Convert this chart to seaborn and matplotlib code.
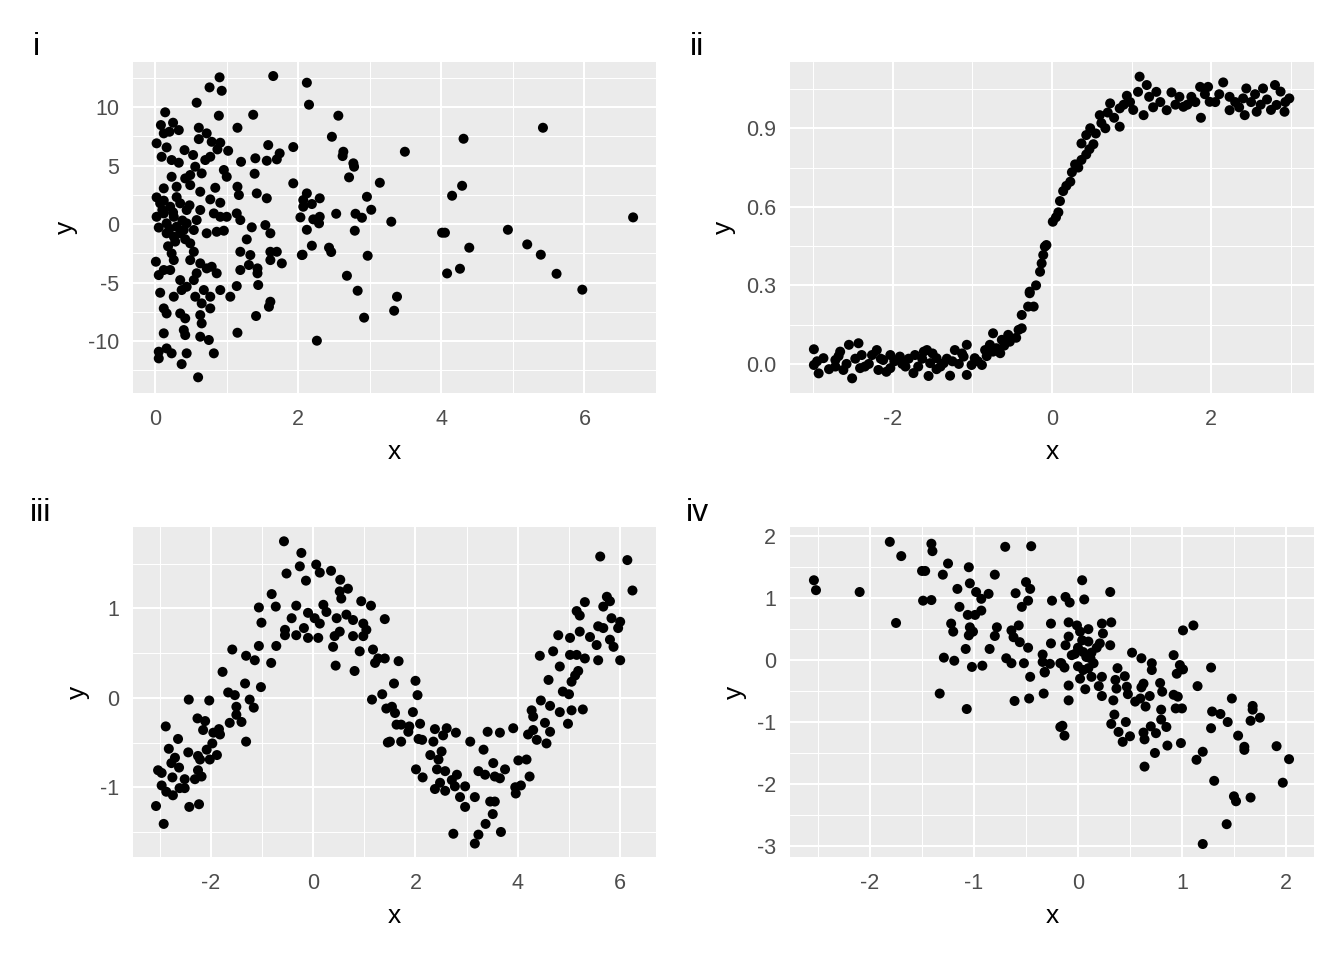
import numpy as np
import pandas as pd
import matplotlib
matplotlib.use("Agg")
import matplotlib.pyplot as plt
import seaborn as sns

# points, (x, y) per panel
pts_i = [
    (2.12, 12.08), (2.15, 10.2), (2.56, 9.26), (2.47, 7.46), (2.63, 6.18), (2.62, 5.81), (2.77, 5.19),
    (2.78, 4.9), (2.71, 3.99), (3.14, 3.53), (3.49, 6.18), (4.31, 7.29), (5.42, 8.23), (4.29, 3.27),
    (4.15, 2.42), (6.68, 0.57), (2.96, 2.33), (3.02, 1.22), (2.80, 0.88), (2.89, 0.54), (2.53, 0.88),
    (3.30, 0.2), (2.79, -0.57), (4.01, -0.74), (4.05, -0.74), (4.93, -0.49), (4.39, -2.02), (5.20, -1.74),
    (5.39, -2.62), (5.61, -4.25), (5.97, -5.61), (4.26, -3.82), (4.08, -4.22), (2.97, -2.71), (2.68, -4.42),
    (2.83, -5.7), (3.38, -6.21), (3.34, -7.41), (2.92, -8.0), (2.26, -9.97), (2.19, -1.85), (2.43, -2.02),
    (2.46, -2.39), (2.06, -2.62), (2.12, -0.49), (2.12, 2.62), (2.07, 2.05), (2.19, 1.71), (2.30, 2.2),
    (2.07, 1.48), (2.21, 0.4), (2.30, 0.62), (2.29, 0.06), (2.03, 0.57),
    (0.90, 12.54), (0.76, 11.68), (0.93, 11.39), (1.65, 12.65), (0.58, 10.37), (0.14, 9.55), (0.89, 9.26),
    (1.37, 9.34), (1.15, 8.23), (0.08, 8.46), (0.25, 8.66), (0.33, 8.03), (0.20, 7.89), (0.12, 7.75),
    (0.61, 8.23), (0.72, 7.75), (0.61, 7.26), (0.02, 6.9), (0.16, 6.55), (0.09, 5.75), (0.23, 5.47),
    (0.33, 5.24), (0.41, 6.32), (0.53, 5.9), (0.79, 7.03), (0.91, 6.95), (0.77, 5.75), (0.70, 5.47),
    (1.02, 6.26), (0.87, 6.38), (1.58, 6.75), (1.93, 6.58), (1.74, 6.04), (1.70, 5.53), (1.40, 5.62),
    (1.56, 5.41), (1.20, 5.32), (1.39, 4.3), (1.93, 3.48), (0.56, 4.9), (0.65, 4.33), (0.49, 4.19),
    (0.23, 4.04), (0.42, 3.9), (0.96, 4.62), (1.0, 4.04), (0.30, 3.19), (0.49, 3.33), (0.63, 2.76),
    (0.84, 3.1), (0.12, 3.05), (0.02, 2.28), (0.77, 2.11), (0.91, 1.82), (1.15, 3.19), (1.17, 2.48),
    (1.42, 2.62), (1.56, 2.2), (0.07, 1.77), (0.21, 1.48), (0.35, 1.77), (0.44, 1.2), (0.12, 0.91),
    (0.26, 0.62), (0.02, 0.62), (0.16, 0.06), (0.30, -0.23), (0.44, 0.06), (0.58, 0.34), (0.63, 1.2),
    (0.16, -0.79), (0.35, -0.79), (0.54, -0.51), (0.26, -1.08), (0.82, 0.91), (0.91, 0.62), (1.0, 0.62),
    (1.14, 0.91), (1.19, 0.34), (0.72, -0.79), (0.86, -0.66), (0.96, -0.57), (1.35, -0.28), (1.28, -1.31),
    (1.54, -0.09), (1.61, -0.79), (0.10, 1.2), (0.25, 1.0), (0.38, 0.3), (0.05, -0.3), (0.2, -0.4),
    (0.4, -0.5), (0.12, 2.0), (0.3, 2.3), (0.48, 1.6), (0.28, -1.5), (0.18, -1.9), (0.42, -1.3),
    (0.49, -1.65), (0.54, -2.37), (0.49, -3.08), (0.23, -2.51), (0.26, -3.08), (0.01, -3.22), (0.12, -3.93),
    (0.05, -4.36), (0.21, -3.93), (0.63, -3.36), (0.72, -3.79), (0.79, -3.65), (0.86, -4.21), (0.58, -4.21),
    (0.54, -4.79), (0.35, -4.79), (0.44, -5.36), (1.19, -2.37), (1.33, -2.65), (1.19, -3.93), (1.31, -3.5),
    (1.43, -3.79), (1.43, -4.21), (1.61, -2.37), (1.70, -2.37), (1.61, -3.08), (1.77, -3.36), (2.05, -2.65),
    (0.07, -5.87), (0.26, -6.21), (0.37, -5.64), (0.56, -6.21), (0.68, -5.64), (0.77, -6.21), (0.91, -5.64),
    (1.05, -6.21), (1.14, -5.3), (1.44, -5.21), (0.65, -6.78), (0.77, -7.21), (0.12, -7.21), (0.16, -7.64),
    (0.35, -7.64), (0.42, -8.06), (0.63, -7.78), (0.65, -8.49), (1.61, -6.64), (1.59, -7.07), (1.41, -7.86),
    (0.12, -9.34), (0.40, -9.06), (0.42, -9.49), (0.63, -9.63), (0.75, -9.91), (1.15, -9.29), (0.05, -10.91),
    (0.16, -10.63), (0.23, -11.05), (0.44, -11.05), (0.82, -11.05), (0.05, -11.48), (0.37, -11.97), (0.60, -13.1),
]

pts_ii = [
    (-2.99, 0.056), (-2.99, -0.004), (-2.93, -0.036), (-2.87, 0.022), (-2.72, 0.015), (-2.66, 0.047),
    (-2.55, 0.073), (-2.43, 0.079), (-2.62, -0.023), (-2.51, -0.055), (-2.41, -0.016), (-2.39, 0.034),
    (-2.72, -0.01), (-2.26, 0.034), (-2.20, 0.053), (-2.12, 0.015), (-2.03, 0.034), (-2.18, -0.023),
    (-2.03, -0.016), (-1.91, 0.028), (-1.84, -0.01), (-1.74, -0.035), (-1.72, 0.034), (-1.61, 0.047),
    (-1.57, 0.053), (-1.53, 0.003), (-1.45, 0.022), (-1.55, -0.046), (-1.45, -0.02), (-1.36, 0.003),
    (-1.28, -0.045), (-1.22, 0.053), (-1.11, 0.028), (-1.07, 0.073), (-1.07, -0.042), (-1.01, -0.004),
    (-0.97, 0.022), (-0.88, -0.004), (-0.84, 0.053), (-0.78, 0.073), (-0.74, 0.047), (-0.65, 0.041),
    (-0.74, 0.117), (-0.63, 0.092), (-0.55, 0.111), (-0.53, 0.085), (-0.38, 0.136), (-0.38, 0.187),
    (-0.30, 0.219), (-0.23, 0.219), (-0.28, 0.27),
    (-2.95, 0.01), (-2.8, -0.02), (-2.68, 0.03), (-2.58, 0.0), (-2.47, 0.02), (-2.35, -0.01), (-2.3, 0.0),
    (-2.15, 0.02), (-2.08, -0.03), (-1.98, 0.01), (-1.88, 0.0), (-1.8, 0.02), (-1.68, -0.01), (-1.63, 0.02),
    (-1.5, 0.04), (-1.4, -0.01), (-1.32, 0.02), (-1.25, 0.01), (-1.17, 0.0), (-1.13, 0.04), (-0.93, 0.01),
    (-0.82, 0.03), (-0.7, 0.06), (-0.6, 0.07), (-0.45, 0.1), (-0.42, 0.13),
    (-0.28, 0.276), (-0.15, 0.352), (-0.13, 0.384), (-0.11, 0.416), (-0.09, 0.448), (-0.07, 0.454),
    (0.01, 0.543), (0.08, 0.579), (0.10, 0.622), (0.14, 0.660), (0.23, 0.696), (0.25, 0.732), (0.29, 0.762),
    (0.37, 0.779), (0.43, 0.800), (0.37, 0.842), (0.52, 0.839), (0.43, 0.874), (0.48, 0.9), (0.60, 0.95),
    (0.67, 0.9), (0.73, 0.995), (0.85, 0.976), (0.85, 0.906), (0.94, 1.024), (1.08, 1.039), (1.10, 1.097),
    (1.19, 1.065), (1.31, 1.039), (1.15, 0.95), (1.44, 0.969), (1.50, 1.037), (1.65, 0.982), (1.75, 1.02),
    (1.86, 1.058), (1.87, 0.94), (1.96, 1.058), (1.98, 1.001), (2.15, 1.075), (2.23, 1.02), (2.23, 0.969),
    (2.40, 1.014), (2.44, 1.052), (2.42, 0.95), (2.57, 0.963), (2.65, 1.052), (2.80, 1.065), (2.82, 0.989),
    (2.92, 0.963), (2.98, 1.014),
    (-0.2, 0.3), (0.05, 0.56), (0.18, 0.68), (0.33, 0.75), (0.47, 0.82), (0.55, 0.88), (0.62, 0.92),
    (0.7, 0.96), (0.78, 0.94), (0.9, 0.99), (0.98, 1.0), (1.02, 0.97), (1.22, 1.02), (1.27, 0.98), (1.36, 1.0),
    (1.55, 0.99), (1.6, 1.02), (1.7, 0.99), (1.8, 1.0), (1.92, 1.03), (2.05, 1.0), (2.1, 1.03), (2.3, 1.0),
    (2.35, 0.98), (2.5, 1.0), (2.55, 1.03), (2.62, 0.99), (2.7, 1.01), (2.75, 0.97), (2.87, 1.04), (2.93, 1.0),
]

pts_iii = [
    (-0.57, 1.75), (-0.23, 1.62), (-0.52, 1.39), (-0.26, 1.47), (-0.14, 1.31), (0.06, 1.49), (0.13, 1.40),
    (0.35, 1.42), (0.53, 1.32), (0.52, 1.19), (0.68, 1.22), (0.55, 1.11), (-0.81, 1.16), (-1.06, 1.01),
    (-0.73, 1.02), (-0.33, 1.03), (-1.01, 0.84), (-0.42, 0.89), (-0.55, 0.76), (-0.55, 0.70), (-0.33, 0.70),
    (-0.18, 0.78), (-0.10, 0.95), (0.03, 0.89), (0.13, 0.83), (0.20, 1.04), (0.26, 0.96), (-0.10, 0.67),
    (0.10, 0.67), (0.46, 0.89), (0.65, 0.93), (0.78, 0.87), (0.94, 1.08), (1.13, 1.03), (0.98, 0.83),
    (1.04, 0.76), (0.78, 0.69), (0.98, 0.69), (0.52, 0.74), (0.42, 0.69), (0.39, 0.57), (0.44, 0.36),
    (0.81, 0.30), (0.91, 0.52), (1.17, 0.54), (1.21, 0.39), (1.27, 0.44), (1.40, 0.44), (1.40, 0.88),
    (1.67, 0.41), (1.58, 0.16), (1.35, 0.04), (1.15, -0.02), (1.43, -0.12), (1.60, -0.17), (1.63, -0.30),
    (1.72, -0.30), (1.46, -0.50), (1.72, -0.49),
    (-1.58, 0.54), (-1.31, 0.47), (-1.14, 0.42), (-1.06, 0.58), (-0.72, 0.58), (-0.82, 0.39), (-1.77, 0.29),
    (-1.33, 0.16), (-1.02, 0.12), (-1.66, 0.06), (-1.53, 0.03), (-1.24, -0.02), (-1.16, -0.11), (-1.50, -0.10),
    (-1.63, -0.28), (-1.50, -0.19), (-1.40, -0.27), (-1.31, -0.49), (-2.43, -0.02), (-2.03, -0.03),
    (-2.26, -0.23), (-2.11, -0.26), (-2.15, -0.36), (-1.95, -0.39), (-1.84, -0.35), (-1.82, -0.41),
    (-1.97, -0.51), (-2.08, -0.58), (-2.25, -0.65), (-2.44, -0.61), (-2.21, -0.69), (-2.02, -0.69),
    (-1.88, -0.64), (-2.88, -0.32), (-2.64, -0.46), (-2.82, -0.57), (-2.70, -0.67), (-2.77, -0.73),
    (-2.62, -0.78), (-3.03, -0.81), (-2.96, -0.84), (-2.75, -0.89), (-2.51, -0.91), (-2.31, -0.91),
    (-2.25, -0.81), (-2.18, -0.88), (-2.96, -0.98), (-2.87, -1.05), (-2.74, -1.09), (-2.61, -1.01),
    (-2.51, -1.01), (-3.07, -1.21), (-2.42, -1.22), (-2.23, -1.19), (-2.92, -1.41),
    (2.0, 0.19), (2.04, 0.03), (1.54, -0.10), (1.95, -0.16), (1.88, -0.32), (2.09, -0.29), (1.86, -0.38),
    (1.50, -0.49), (2.06, -0.46), (2.13, -0.47), (2.38, -0.35), (2.61, -0.34), (2.79, -0.39), (2.54, -0.42),
    (2.35, -0.49), (2.51, -0.60), (2.29, -0.64), (2.45, -0.69), (2.42, -0.80), (2.01, -0.80), (2.14, -0.89),
    (2.58, -0.82), (2.81, -0.86), (2.71, -0.92), (2.77, -0.99), (2.97, -0.99), (2.38, -1.02), (2.58, -1.04),
    (2.48, -0.95), (2.87, -1.11), (2.97, -1.22), (3.16, -1.11), (3.07, -0.49), (3.33, -0.58), (3.23, -0.82),
    (3.36, -0.86), (3.52, -0.73), (3.55, -0.88), (3.65, -0.90), (3.75, -0.80), (3.46, -1.16), (3.55, -1.16),
    (3.51, -1.30), (3.37, -1.41), (2.74, -1.52), (3.23, -1.53), (3.16, -1.63), (3.67, -1.50), (3.41, -0.38),
    (3.65, -0.39), (3.91, -0.34), (4.01, -0.70), (4.17, -0.69), (3.95, -1.0), (4.06, -0.98), (4.23, -0.88),
    (3.96, -1.07),
    (4.27, -0.14), (4.30, -0.21), (4.45, -0.03), (4.63, -0.09), (4.82, -0.16), (5.05, -0.14), (5.27, -0.13),
    (4.98, -0.29), (4.20, -0.41), (4.30, -0.36), (4.37, -0.47), (4.53, -0.28), (4.63, -0.38), (4.56, -0.51),
    (4.60, 0.20), (4.43, 0.47), (4.69, 0.52), (4.82, 0.35), (4.88, 0.07), (5.00, 0.04), (5.05, 0.18),
    (5.12, 0.25), (5.18, 0.30), (4.79, 0.70), (5.02, 0.67), (5.02, 0.48), (5.15, 0.48), (5.31, 0.44),
    (5.21, 0.74), (5.41, 0.68), (5.54, 0.59), (5.57, 0.42), (5.80, 0.65), (5.87, 0.57), (6.00, 0.42),
    (5.15, 0.97), (5.31, 1.07), (5.21, 0.92), (5.57, 0.80), (5.67, 0.78), (5.74, 1.13), (5.80, 1.08),
    (5.67, 1.02), (5.83, 0.89), (6.00, 0.85), (5.96, 0.78), (5.61, 1.58), (6.14, 1.54), (6.24, 1.20),
]

pts_iv = [
    (-2.54, 1.29), (-2.52, 1.13), (-2.10, 1.10), (-1.81, 1.91), (-1.70, 1.68), (-1.75, 0.60), (-1.41, 1.88),
    (-1.40, 1.76), (-1.50, 1.44), (-1.47, 1.44), (-1.49, 0.96), (-1.41, 0.97), (-1.25, 1.56), (-1.30, 1.38),
    (-1.05, 1.50), (-1.04, 1.24), (-1.16, 1.15), (-0.98, 1.10), (-0.93, 0.99), (-0.86, 1.07), (-0.80, 1.38),
    (-1.14, 0.86), (-1.06, 0.73), (-0.99, 0.73), (-0.93, 0.80), (-0.70, 1.83), (-0.45, 1.84),
    (-1.22, 0.59), (-1.20, 0.46), (-1.04, 0.53), (-1.01, 0.46), (-1.05, 0.40), (-0.78, 0.53), (-0.80, 0.39),
    (-1.08, 0.18), (-0.85, 0.18), (-1.29, 0.04), (-1.19, -0.01), (-1.02, -0.11), (-0.92, -0.09),
    (-1.33, -0.54), (-1.07, -0.79),
    (-0.60, 1.08), (-0.50, 1.26), (-0.46, 1.15), (-0.48, 0.96), (-0.54, 0.86), (-0.25, 0.96), (-0.26, 0.59),
    (-0.57, 0.56), (-0.64, 0.48), (-0.62, 0.37), (-0.56, 0.29), (-0.48, 0.20), (-0.26, 0.27), (-0.34, 0.09),
    (-0.69, 0.03), (-0.64, -0.05), (-0.52, -0.05), (-0.34, -0.03), (-0.27, -0.06), (-0.17, -0.05),
    (-0.46, -0.27), (-0.32, -0.20), (-0.33, -0.54), (-0.61, -0.66), (-0.47, -0.62), (-0.17, -1.08),
    (0.04, 1.29), (-0.12, 1.02), (-0.08, 0.93), (0.06, 0.98), (0.31, 1.10),
    (-0.09, 0.61), (-0.01, 0.56), (0.02, 0.46), (0.10, 0.50), (0.23, 0.59), (0.32, 0.61), (0.24, 0.43),
    (-0.09, 0.38), (-0.12, 0.24), (0.04, 0.32), (0.21, 0.27), (0.31, 0.24),
    (-0.16, -0.05), (-0.13, -0.12), (-0.06, 0.08), (0.05, 0.13), (0.13, 0.12), (0.12, 0.03), (0.05, -0.16),
    (0.10, -0.13), (0.02, -0.30), (0.13, -0.27), (0.23, -0.27), (-0.32, -0.19), (-0.09, -0.41),
    (-0.09, -0.65), (0.07, -0.47), (0.20, -0.42), (0.23, -0.58), (-0.15, -1.06), (-0.13, -1.22),
    (0.0, 0.2), (0.08, 0.05), (0.15, -0.05), (-0.03, 0.1), (0.18, 0.2), (0.1, 0.3), (0.0, -0.1),
    (0.38, -0.13), (0.45, -0.26), (0.52, 0.12), (0.61, 0.03), (0.71, -0.05), (0.71, -0.16), (0.36, -0.32),
    (0.37, -0.46), (0.47, -0.43), (0.48, -0.55), (0.63, -0.38), (0.61, -0.44), (0.79, -0.37), (0.81, -0.51),
    (0.69, -0.58), (0.55, -0.67), (0.60, -0.62), (0.65, -0.75), (0.34, -0.65), (0.35, -0.88), (0.32, -1.03),
    (0.46, -1.00), (0.39, -1.16), (0.43, -1.32), (0.50, -1.23), (0.63, -1.17), (0.64, -1.28), (0.70, -1.07),
    (0.75, -1.18), (0.80, -0.96), (0.85, -1.08), (0.80, -0.80), (0.86, -1.38), (0.99, -1.34), (0.74, -1.50),
    (0.64, -1.72),
    (1.01, 0.48), (1.11, 0.56), (0.92, 0.08), (0.98, -0.08), (1.01, -0.15), (0.95, -0.22), (1.28, -0.12),
    (1.15, -0.42), (0.92, -0.56), (0.96, -0.59), (0.94, -0.78), (1.00, -0.78), (1.48, -0.62), (1.29, -0.83),
    (1.37, -0.87), (1.44, -1.00), (1.28, -1.10), (1.68, -0.74), (1.68, -0.80), (1.75, -0.93), (1.66, -0.98),
    (1.54, -1.22), (1.60, -1.40), (1.60, -1.45), (1.20, -1.48), (1.14, -1.61), (1.91, -1.39), (2.03, -1.60),
    (1.31, -1.95), (1.97, -1.98), (1.50, -2.20), (1.52, -2.28), (1.66, -2.22), (1.43, -2.65), (1.20, -2.97),
]

tags = ["i", "ii", "iii", "iv"]

# axis setup per panel: limits, major ticks, minor gridlines, tick labels
xlims = [(-0.31, 7.0), (-3.29, 3.29), (-3.52, 6.70), (-2.77, 2.27)]
ylims = [(-14.44, 13.85), (-0.111, 1.153), (-1.78, 1.91), (-3.18, 2.15)]
xticks = [[0, 2, 4, 6], [-2, 0, 2], [-2, 0, 2, 4, 6], [-2, -1, 0, 1, 2]]
yticks = [[-10, -5, 0, 5, 10], [0.0, 0.3, 0.6, 0.9], [-1, 0, 1], [-3, -2, -1, 0, 1, 2]]
ytick_labels = [["-10", "-5", "0", "5", "10"], ["0.0", "0.3", "0.6", "0.9"],
                ["-1", "0", "1"], ["-3", "-2", "-1", "0", "1", "2"]]
xminor = [[1, 3, 5, 7], [-3, -1, 1, 3], [-3, -1, 1, 3, 5], [-2.5, -1.5, -0.5, 0.5, 1.5]]
yminor = [[-12.5, -7.5, -2.5, 2.5, 7.5, 12.5], [0.15, 0.45, 0.75, 1.05],
          [-1.5, -0.5, 0.5, 1.5], [-2.5, -1.5, -0.5, 0.5, 1.5]]

sns.set_style("white")
plt.rcParams["font.family"] = ["Liberation Sans", "DejaVu Sans"]

fig = plt.figure(figsize=(13.44, 9.6), dpi=100)
W, H = 1344, 960
# panel boxes in pixels (left, top, right, bottom)
boxes = [(133, 62, 656, 393), (790, 62, 1314, 393), (133, 527, 656, 857), (790, 527, 1314, 857)]
tag_pos = [(33, 47), (690, 47), (30, 513), (686, 513)]

for k, pts in enumerate([pts_i, pts_ii, pts_iii, pts_iv]):
    l, t, r, b = boxes[k]
    ax = fig.add_axes([l / W, 1 - b / H, (r - l) / W, (b - t) / H])
    df = pd.DataFrame(pts, columns=["x", "y"])
    ax.set_facecolor("#EBEBEB")
    ax.set_xlim(*xlims[k])
    ax.set_ylim(*ylims[k])
    for v in xminor[k]:
        ax.axvline(v, color="white", lw=0.75, zorder=0.5)
    for v in yminor[k]:
        ax.axhline(v, color="white", lw=0.75, zorder=0.5)
    for v in xticks[k]:
        ax.axvline(v, color="white", lw=1.5, zorder=0.6)
    for v in yticks[k]:
        ax.axhline(v, color="white", lw=1.5, zorder=0.6)
    sns.scatterplot(data=df, x="x", y="y", ax=ax, color="black", s=52,
                    edgecolor="none", linewidth=0, zorder=3)
    ax.set_xticks(xticks[k])
    ax.set_xticklabels([str(v) for v in xticks[k]])
    ax.set_yticks(yticks[k])
    ax.set_yticklabels(ytick_labels[k])
    ax.tick_params(axis="both", length=5, width=1.2, color="#333333",
                   labelcolor="#4D4D4D", labelsize=15.5)
    ax.tick_params(axis="x", pad=6.5)
    ax.tick_params(axis="y", pad=5)
    for sp in ax.spines.values():
        sp.set_visible(False)
    ax.set_xlabel("x", fontsize=19, color="black", labelpad=7)
    ax.set_ylabel("y", fontsize=19, color="black", labelpad=7)
    fig.text(tag_pos[k][0] / W, 1 - tag_pos[k][1] / H, tags[k], fontsize=23,
             ha="left", va="center", color="black")

fig.savefig("out.png", dpi=100, facecolor="white")
